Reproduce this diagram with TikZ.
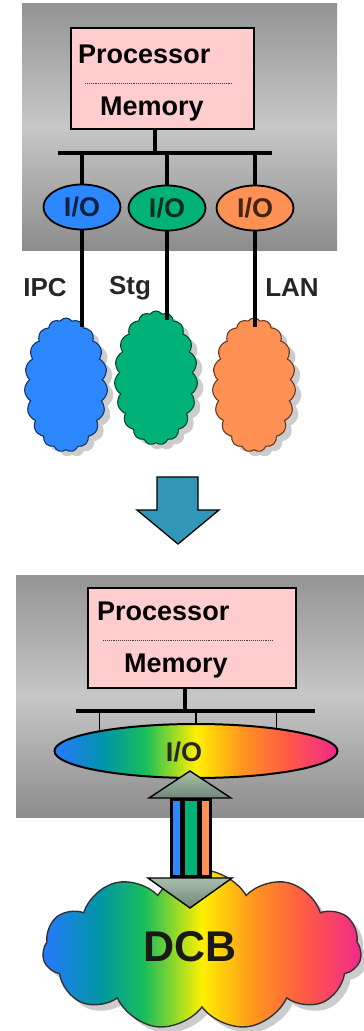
\documentclass[tikz,border=0pt]{standalone}
\usepackage{fontspec}
\setmainfont{Liberation Sans}
\usetikzlibrary{shapes.symbols, shapes.geometric, shadows, positioning}

\definecolor{ioblue}{RGB}{45,135,255}
\definecolor{iogreen}{RGB}{0,178,120}
\definecolor{ioorange}{RGB}{255,145,85}
\definecolor{cpupink}{RGB}{255,205,205}
\definecolor{arrowblue}{RGB}{50,150,185}
\definecolor{headlite}{RGB}{170,190,172}
\definecolor{headdark}{RGB}{112,136,120}
\definecolor{rbblue}{RGB}{40,120,255}
\definecolor{rbteal}{RGB}{0,150,165}
\definecolor{rbgreen}{RGB}{25,190,90}
\definecolor{rbyellow}{RGB}{255,240,0}
\definecolor{rborange}{RGB}{255,150,30}
\definecolor{rbred}{RGB}{255,90,70}
\definecolor{rbpink}{RGB}{240,40,140}

\pgfdeclarehorizontalshading{rainbow}{100bp}{color(0bp)=(rbblue); color(25bp)=(rbblue);
  color(34bp)=(rbteal); color(41bp)=(rbgreen); color(50bp)=(rbyellow);
  color(58bp)=(rborange); color(66bp)=(rbred); color(75bp)=(rbpink); color(100bp)=(rbpink)}

\begin{document}
\begin{tikzpicture}[x=1pt, y=-1pt,
    panel/.style={inner sep=0pt, outer sep=0pt, top color=black!42, bottom color=black!45, middle color=black!22},
    cpubox/.style={draw, line width=2.6pt, fill=cpupink, inner sep=0pt},
    txt/.style={inner sep=0pt, font=\bfseries\fontsize{27}{27}\selectfont},
    sep/.style={densely dotted, line width=0.9pt, black!75},
    bus/.style={line width=3.2pt},
    tap/.style={line width=1.5pt},
    iobub/.style={draw, ellipse, line width=1.8pt, minimum width=77pt, minimum height=45pt, inner sep=0pt, txt},
    puff/.style={draw, cloud, cloud puffs=19, cloud puff arc=110, aspect=0.62, minimum width=83pt, minimum height=134pt,
      line width=1.1pt, drop shadow={shadow xshift=6pt, shadow yshift=-5pt, fill=black!40}}]
    \useasboundingbox (0,0) rectangle (364,1031);

    % Antes: tres redes separadas
    \node[panel, minimum width=315pt, minimum height=247pt, anchor=north west] (panA) at (22,3) {};
    \node[cpubox, minimum width=183pt, minimum height=101pt] (cpuA) at (162.5,78.5) {};
    \node[txt, anchor=base west] (procA) at (78,63) {Processor};
    \draw[sep] (85,83) -- (233,83);
    \node[txt, anchor=base] (memA) at (152,115) {Memory};

    \coordinate (stemA) at (155,153);
    \coordinate (busA1) at (58,153);
    \coordinate (busA2) at (272,153);
    \draw[bus] (cpuA.south -| stemA) -- (stemA);
    \draw[bus] (busA1) -- (busA2);

    \node[iobub, fill=ioblue, text=ioblue!25!black] (ioA1) at (82,207) {I/O};
    \node[iobub, fill=iogreen, text=iogreen!25!black] (ioA2) at (167,208) {I/O};
    \node[iobub, fill=ioorange, text=ioorange!25!black] (ioA3) at (255,208) {I/O};
    \foreach \n in {1,2,3}
        \draw[bus] (ioA\n.north |- busA1) -- (ioA\n.north);

    \node[puff, fill=ioblue, draw=ioblue!40!black] (netA1) at (66,385) {};
    \node[puff, fill=iogreen, draw=iogreen!40!black] (netA2) at (156,378) {};
    \node[puff, fill=ioorange, draw=ioorange!40!black] (netA3) at (254,385) {};
    \foreach \n in {1,2,3}
        \draw[bus, shorten >=-10pt] (ioA\n.south) -- (ioA\n.south |- netA\n.north);

    \node[txt, font=\bfseries\fontsize{26}{26}\selectfont, text=black!85] (ipc) at (45,288) {IPC};
    \node[txt, font=\bfseries\fontsize{26}{26}\selectfont, text=black!85] (stg) at (130,288) {Stg};
    \node[txt, font=\bfseries\fontsize{26}{26}\selectfont, text=black!85] (lan) at (292,288) {LAN};

    % Seta
    \draw[line width=1.3pt, fill=arrowblue] (157,477) -- (198,477) -- (198,510) -- (219,510)
        -- (178,544) -- (137,510) -- (157,510) -- cycle;

    % Depois: DCB
    \node[panel, minimum width=348pt, minimum height=242pt, anchor=north west] (panB) at (16,575) {};
    \node[cpubox, minimum width=208pt, minimum height=100pt] (cpuB) at (192,638) {};
    \node[txt, anchor=base west] (procB) at (97,620) {Processor};
    \draw[sep] (103,640) -- (273,640);
    \node[txt, anchor=base] (memB) at (176,672) {Memory};

    \coordinate (stemB) at (185,711);
    \coordinate (busB1) at (76,711);
    \coordinate (busB2) at (315,711);
    \draw[bus] (cpuB.south -| stemB) -- (stemB);
    \draw[bus] (busB1) -- (busB2);

    \node[draw, ellipse, line width=2pt, shading=rainbow, minimum width=283pt, minimum height=54pt] (ioB) at (196,751) {};
    \node[txt, text=black!85] (ioBtxt) at (184,752) {I/O};
    \foreach \a in {168,90,16}
        \draw[tap] (ioB.\a |- busB1) -- (ioB.\a);

    \node[draw=black!80, cloud, cloud puffs=11, cloud puff arc=120, aspect=2, shading=rainbow,
        minimum width=319pt, minimum height=160pt, line width=1.4pt,
        drop shadow={shadow xshift=6pt, shadow yshift=-6pt, fill=black!40}] (dcb) at (202,950) {};
    \node[txt, font=\bfseries\fontsize{43}{43}\selectfont, text=black!90] (dcbTxt) at (190,947) {DCB};

    % Seta dupla
    \draw[line width=1.4pt, top color=headlite, bottom color=headdark] (190,771) -- (231,798) -- (149,798) -- cycle;
    \fill (170,798) rectangle (212,878);
    \fill[ioblue] (173,801) rectangle (180,875);
    \fill[iogreen] (185,801) rectangle (197,875);
    \fill[ioorange] (202,801) rectangle (209,875);
    \draw[line width=1.4pt, top color=headlite, bottom color=headdark] (148,878) -- (232,878) -- (190,908) -- cycle;
\end{tikzpicture}
\end{document}
